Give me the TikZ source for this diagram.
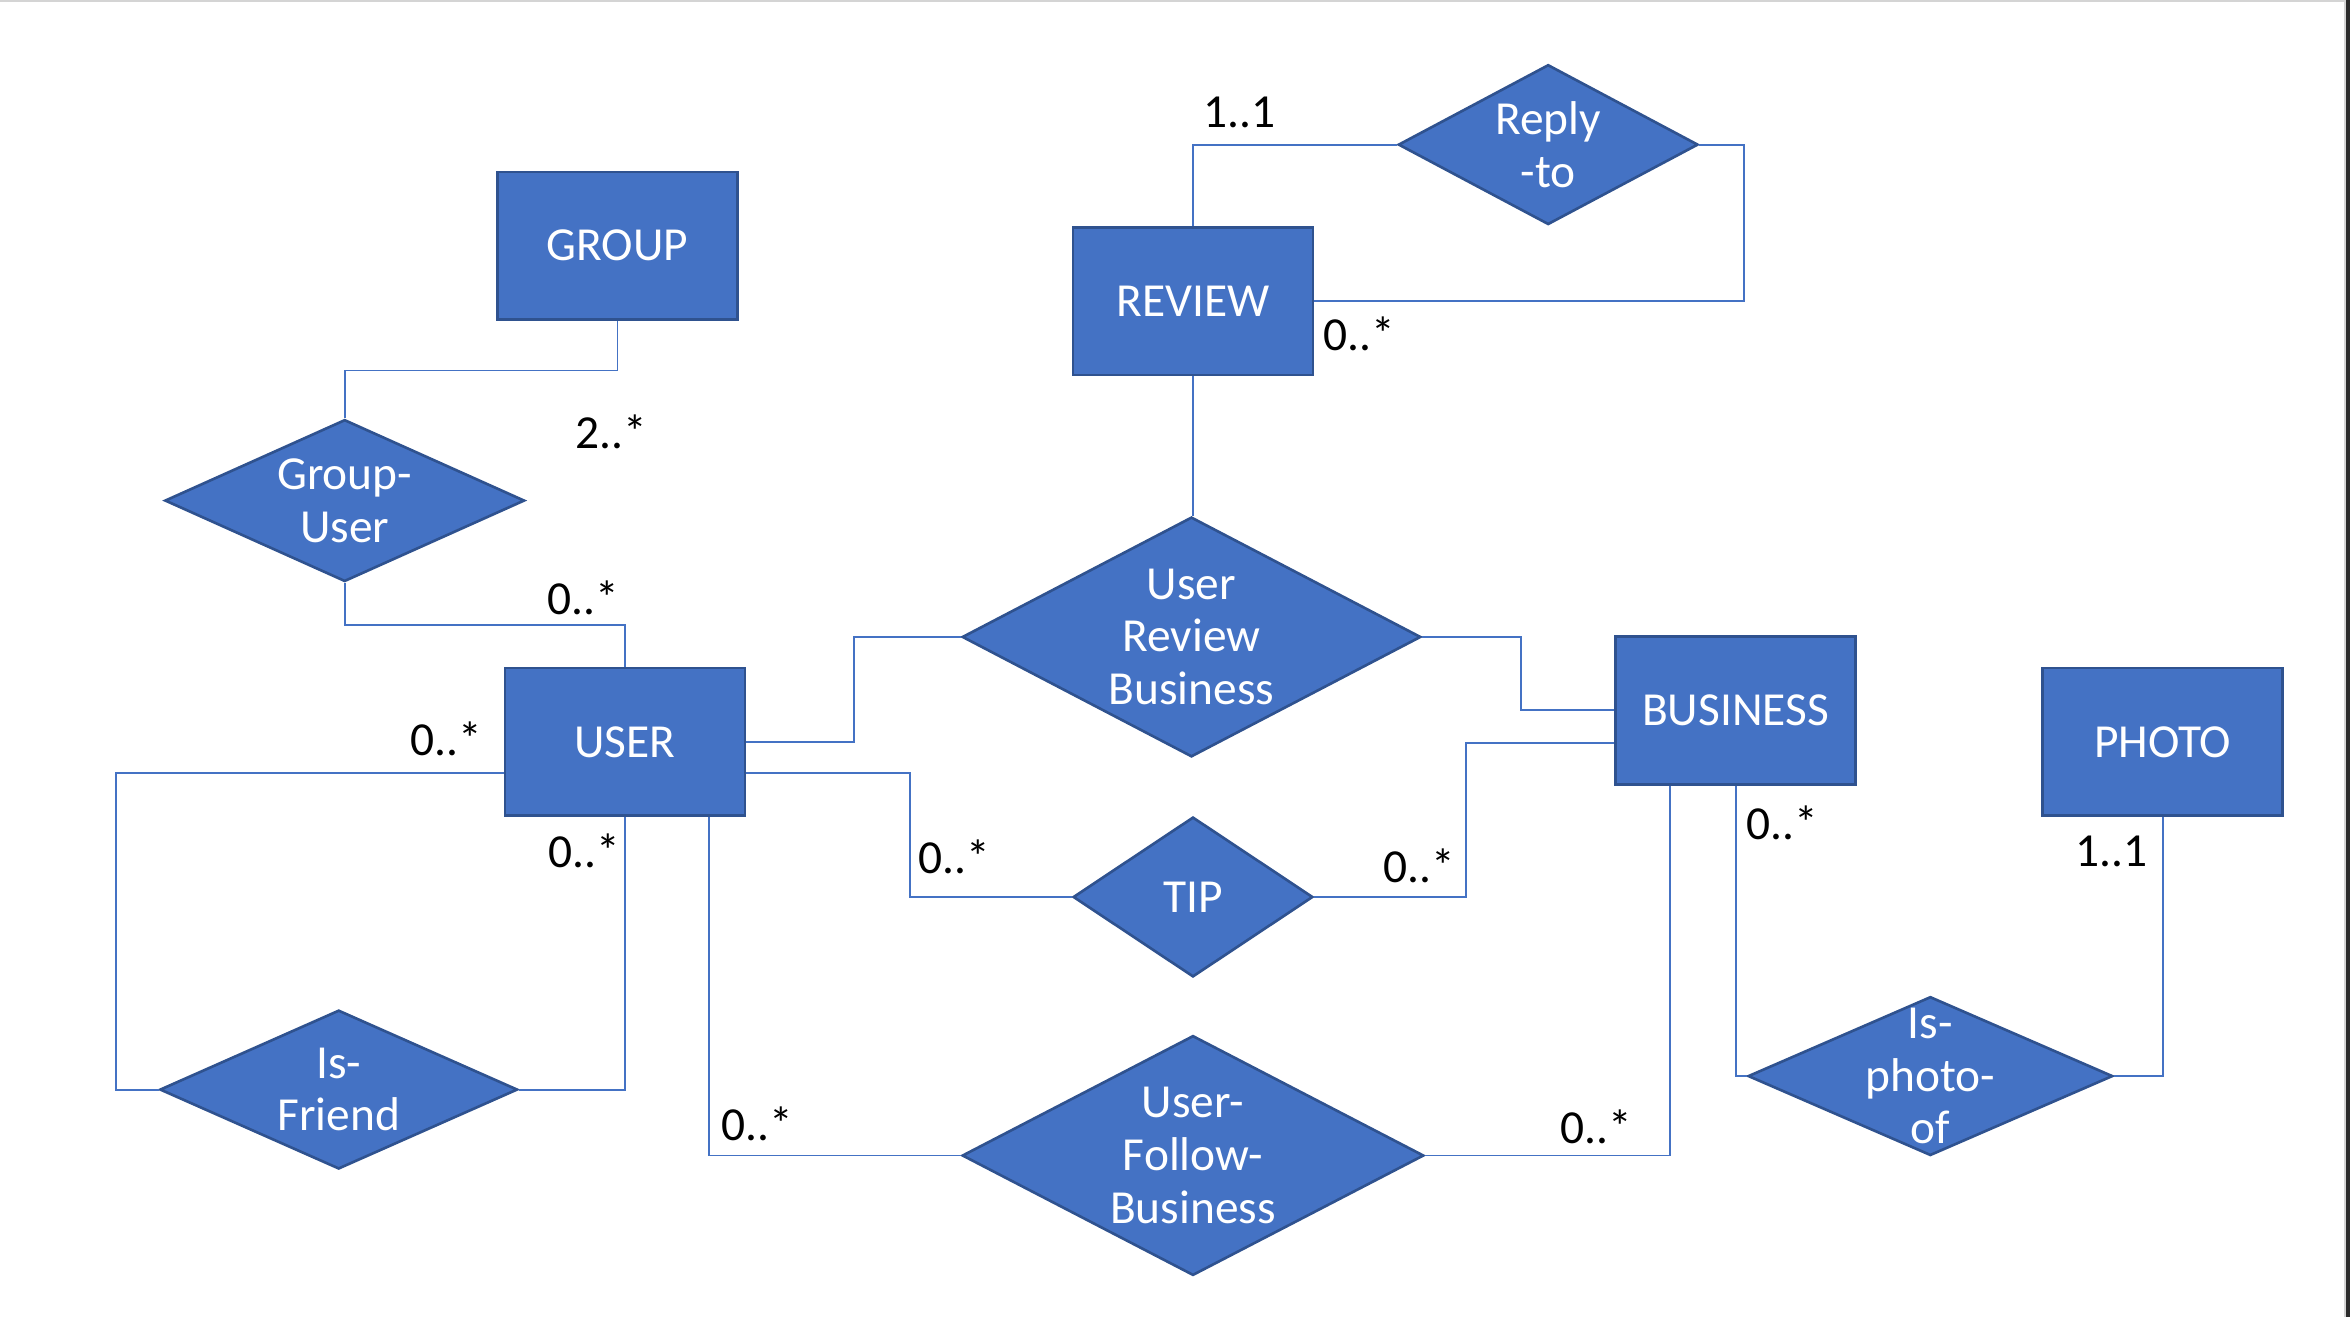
\documentclass[tikz,border=0pt]{standalone}
\usepackage{fontspec}
\setmainfont{Carlito}
\usetikzlibrary{shapes.geometric,calc}
\definecolor{erblue}{HTML}{4472C4}
\definecolor{eredge}{HTML}{2F528F}
\begin{document}
\begin{tikzpicture}[x=0.015cm,y=-0.015cm,
                    font=\fontsize{13.5}{15}\selectfont,
                    entity/.style={rectangle,fill=erblue,draw=eredge,line width=0.75pt,text=white,
                                   minimum width=2.4cm,minimum height=1.48cm,inner sep=0pt},
                    relship/.style 2 args={diamond,fill=erblue,draw=eredge,line width=0.75pt,
                                   inner sep=0pt,minimum width=#1,minimum height=#2},
                    rtext/.style={text=white,align=center},
                    link/.style={draw=erblue,line width=0.55pt},
                    card/.style={text=black}]
                    \useasboundingbox (0,0) rectangle (1568,879);
                    \fill[black!17] (0,0) rectangle (1568,1.3);
                    \fill[black!17] (1564,0) rectangle (1565.3,879);
                    \fill[black!83] (1565.3,0) rectangle (1568,879);

                    \node[entity] (group) at (412,164) {GROUP};
                    \node[entity] (review) at (796,201) {REVIEW};
                    \node[entity] (user) at (417,495) {USER};
                    \node[entity] (business) at (1158,474) {BUSINESS};
                    \node[entity] (photo) at (1443,495) {PHOTO};

                    \node[relship={3cm}{1.6cm},label={[rtext]center:Reply\\-to}] (reply) at (1033,96.5) {};
                    \node[relship={3.6cm}{1.62cm},label={[rtext]center:Group-\\User}] (groupuser) at (230,334) {};
                    \node[relship={4.59cm}{2.4cm},label={[rtext]center:User\\Review\\Business}] (urb) at (795,425) {};
                    \node[relship={2.4cm}{1.6cm},label={[rtext]center:TIP}] (tip) at (796,598.5) {};
                    \node[relship={3.58cm}{1.59cm},label={[rtext]center:Is-\\Friend}] (friend) at (226,727) {};
                    \node[relship={4.62cm}{2.4cm},label={[rtext]center:User-\\Follow-\\Business}] (ufb) at (796,771) {};
                    \node[relship={3.65cm}{1.59cm},label={[rtext]center:Is-\\photo-\\of}] (photoof) at (1288,718) {};

                    \draw[link] (review.north) |- (reply.west);
                    \draw[link] (reply.east) -- ++(30,0) |- (review.east);
                    \draw[link] (group.south) -- ++(0,33) -| (groupuser.north);
                    \draw[link] (groupuser.south) -- ++(0,28) -| (user.north);
                    \draw[link] (review.south) -- (review.south |- urb.north);
                    \draw[link] (user.east) -- ++(72,0) |- (urb.west);
                    \draw[link] (urb.east) -- ++(66,0) |- (business.west);
                    \draw[link] ($(user.east)+(0,21)$) -- ++(109,0) |- (tip.west);
                    \draw[link] (tip.east) -- ++(101,0) |- ($(business.west)+(0,22)$);
                    \draw[link] ($(user.west)+(0,21)$) -- ++(-259,0) |- (friend.west);
                    \draw[link] (friend.east) -| (user.south);
                    \draw[link] ($(user.south)+(56,0)$) |- (ufb.west);
                    \draw[link] (ufb.east) -| ($(business.south)+(-44,0)$);
                    \draw[link] (business.south) |- (photoof.west);
                    \draw[link] (photoof.east) -| (photo.south);

                    \node[card] (c1) at (827,75) {1..1};
                    \node[card] (c2) at (907,223) {0..*};
                    \node[card] (c3) at (408,288) {2..*};
                    \node[card] (c4) at (389,399) {0..*};
                    \node[card] (c5) at (298,493) {0..*};
                    \node[card] (c6) at (390,568) {0..*};
                    \node[card] (c7) at (637,572) {0..*};
                    \node[card] (c8) at (947,578) {0..*};
                    \node[card] (c9) at (505,750) {0..*};
                    \node[card] (c10) at (1065,752) {0..*};
                    \node[card] (c11) at (1189,549) {0..*};
                    \node[card] (c12) at (1409,568) {1..1};
                \end{tikzpicture}
\end{document}
